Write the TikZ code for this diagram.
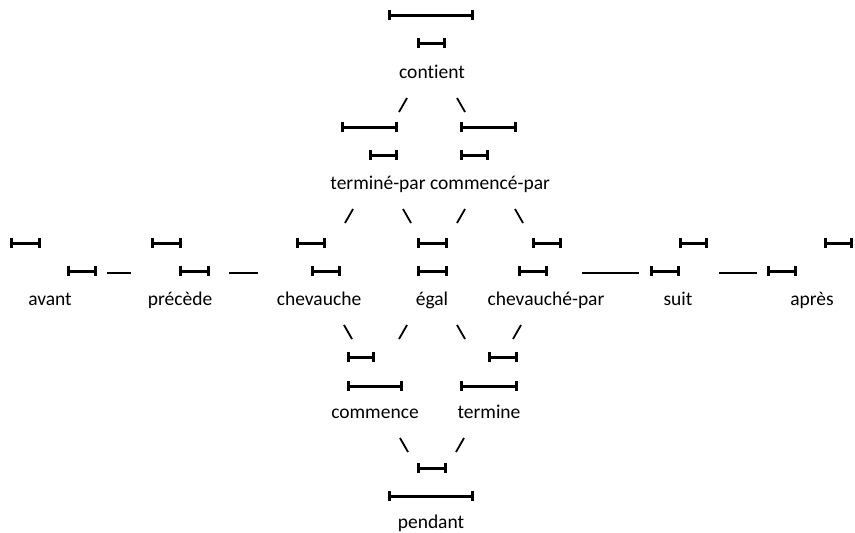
\documentclass[tikz,border=0pt]{standalone}
\usepackage{fontspec}
\setmainfont{Carlito}[Ligatures=NoCommon]
\usetikzlibrary{arrows.meta,calc}

\begin{document}
\begin{tikzpicture}[
  x=1pt, y=-1pt,
  interval/.style={line width=3pt, {Bar[width=10pt]}-{Bar[width=10pt]}},
  link/.style={line width=1.8pt},
  rel/.style={anchor=base, inner sep=0pt, font=\fontsize{19.5}{23}\selectfont}]
  \useasboundingbox (0,0) rectangle (855,533);

  % relation names
  \node[rel] (contient) at (432,78) {contient};
  \node[rel] (termpar) at (378,189) {terminé-par};
  \node[rel] (commpar) at (490,189) {commencé-par};
  \node[rel] (avant) at (50,305) {avant};
  \node[rel] (precede) at (180,305) {précède};
  \node[rel] (chev) at (319,305) {chevauche};
  \node[rel] (egal) at (432,305) {égal};
  \node[rel] (chevpar) at (546,305) {chevauché-par};
  \node[rel] (suit) at (678,305) {suit};
  \node[rel] (apres) at (812,305) {après};
  \node[rel] (commence) at (375,418) {commence};
  \node[rel] (termine) at (489,418) {termine};
  \node[rel] (pendant) at (431,528) {pendant};

  % the two intervals of each relation
  \foreach \a/\b/\y in {388/474/15, 417/446/43,
      341/398/127, 369/398/155, 460/517/127, 460/489/155,
      10/41/243, 67/97/271, 151/182/243, 179/210/271,
      296/326/243, 311/341/271, 417/448/243, 417/448/271,
      532/562/243, 518/548/271, 679/708/243, 650/680/271,
      824/853/243, 767/797/271,
      347/375/357, 347/403/386, 488/518/357, 460/518/386,
      417/447/468, 388/474/496}
    \draw[interval] (\a,\y) -- (\b,\y);

  % lattice links
  \foreach \u/\s in {contient/-1, contient/1, termpar/-1, termpar/1,
      commpar/-1, commpar/1, chev/1, egal/-1, egal/1, chevpar/-1,
      commence/1, termine/-1}
    \draw[link] ($(\u.base)+(\s*25,20)$) -- ++(\s*8,14);

  \draw[link, shorten <=57pt, shorten >=49pt]
    ([yshift=32pt]avant.base) -- ([yshift=32pt]precede.base);
  \draw[link, shorten <=49pt, shorten >=61pt]
    ([yshift=32pt]precede.base) -- ([yshift=32pt]chev.base);
  \draw[link, shorten <=36pt, shorten >=39pt]
    ([yshift=32pt]chevpar.base) -- ([yshift=32pt]suit.base);
  \draw[link, shorten <=41pt, shorten >=55pt]
    ([yshift=32pt]suit.base) -- ([yshift=32pt]apres.base);
\end{tikzpicture}
\end{document}
